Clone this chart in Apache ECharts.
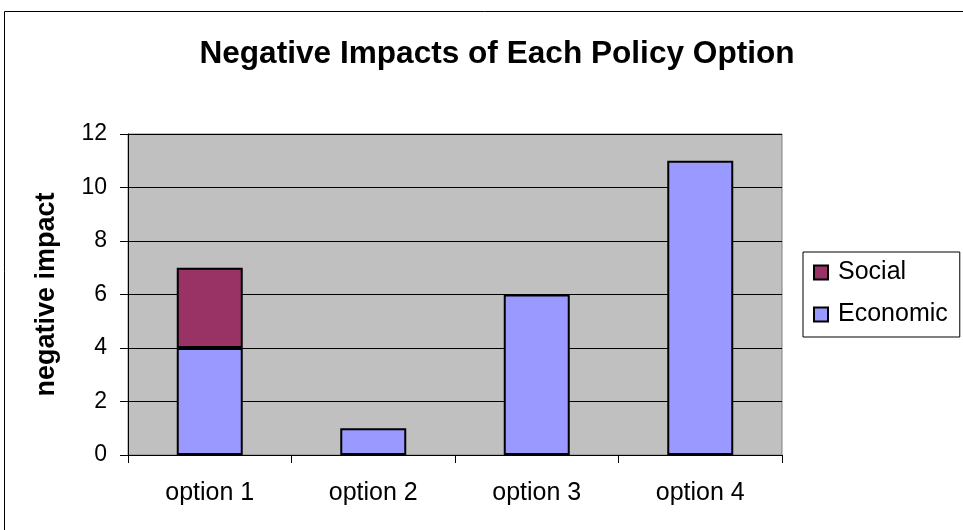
<!DOCTYPE html>
<html><head><meta charset="utf-8">
<script src="https://cdn.jsdelivr.net/npm/echarts@6/dist/echarts.min.js"></script>
<style>html,body{margin:0;padding:0;background:#fff}#c{width:963px;height:530px}</style>
</head><body><div id="c"></div>
<script>
const categories = ['option 1', 'option 2', 'option 3', 'option 4'];
const economic = [4, 1, 6, 11];
const social = [3, 0, 0, 0];
const yTicks = [0, 2, 4, 6, 8, 10, 12];

const chart = echarts.init(document.getElementById('c'));
const font = '"Liberation Sans", Arial, sans-serif';
chart.setOption({
  animation: false,
  backgroundColor: '#fff',
  title: {
    text: 'Negative Impacts of Each Policy Option',
    left: 492, top: 33, textAlign: 'center',
    textStyle: { fontFamily: font, fontWeight: 'bold', fontSize: 31.6, color: '#000' }
  },
  graphic: [{
    type: 'rect', z: -1, silent: true,
    shape: { x: 4.5, y: 11.5, width: 1000, height: 600 },
    style: { fill: 'none', stroke: '#000', lineWidth: 1 }
  }],
  legend: {
    data: ['Social', 'Economic'],
    orient: 'vertical',
    left: 803, top: 252,
    padding: [8, 12, 10, 10],
    itemGap: 17,
    itemWidth: 14, itemHeight: 14,
    icon: 'rect',
    borderColor: '#000', borderWidth: 1, borderRadius: 0,
    backgroundColor: '#fff',
    textStyle: { fontFamily: font, fontSize: 25, color: '#000', padding: [0, 0, 0, 5] }
  },
  grid: { left: 128, top: 134, right: 181, bottom: 75, show: true, backgroundColor: '#C0C0C0', borderColor: '#808080', borderWidth: 1 },
  xAxis: {
    type: 'category', data: categories,
    axisLine: { lineStyle: { color: '#000' } },
    axisTick: { show: true, alignWithLabel: false, length: 8, lineStyle: { color: '#000' } },
    axisLabel: { fontFamily: font, fontSize: 25, color: '#000', margin: 26 }
  },
  yAxis: {
    type: 'value', min: 0, max: 12, interval: 2,
    name: 'negative impact', nameLocation: 'middle', nameGap: 68,
    nameTextStyle: { fontFamily: font, fontWeight: 'bold', fontSize: 27, color: '#000' },
    axisLine: { show: true, lineStyle: { color: '#000' } },
    axisTick: { show: true, length: 8, lineStyle: { color: '#000' } },
    axisLabel: { fontFamily: font, fontSize: 23, color: '#000', margin: 21,
      formatter: v => yTicks.includes(v) ? String(v) : '' },
    splitLine: { show: true, lineStyle: { color: '#000', width: 1 } }
  },
  series: [
    { name: 'Economic', type: 'bar', stack: 't', data: economic, barWidth: 66,
      itemStyle: { color: '#9999FF', borderColor: '#000', borderWidth: 2 } },
    { name: 'Social', type: 'bar', stack: 't', data: social.map(v => v === 0 ? null : v), barWidth: 66,
      itemStyle: { color: '#993366', borderColor: '#000', borderWidth: 2 } }
  ]
});
</script></body></html>
